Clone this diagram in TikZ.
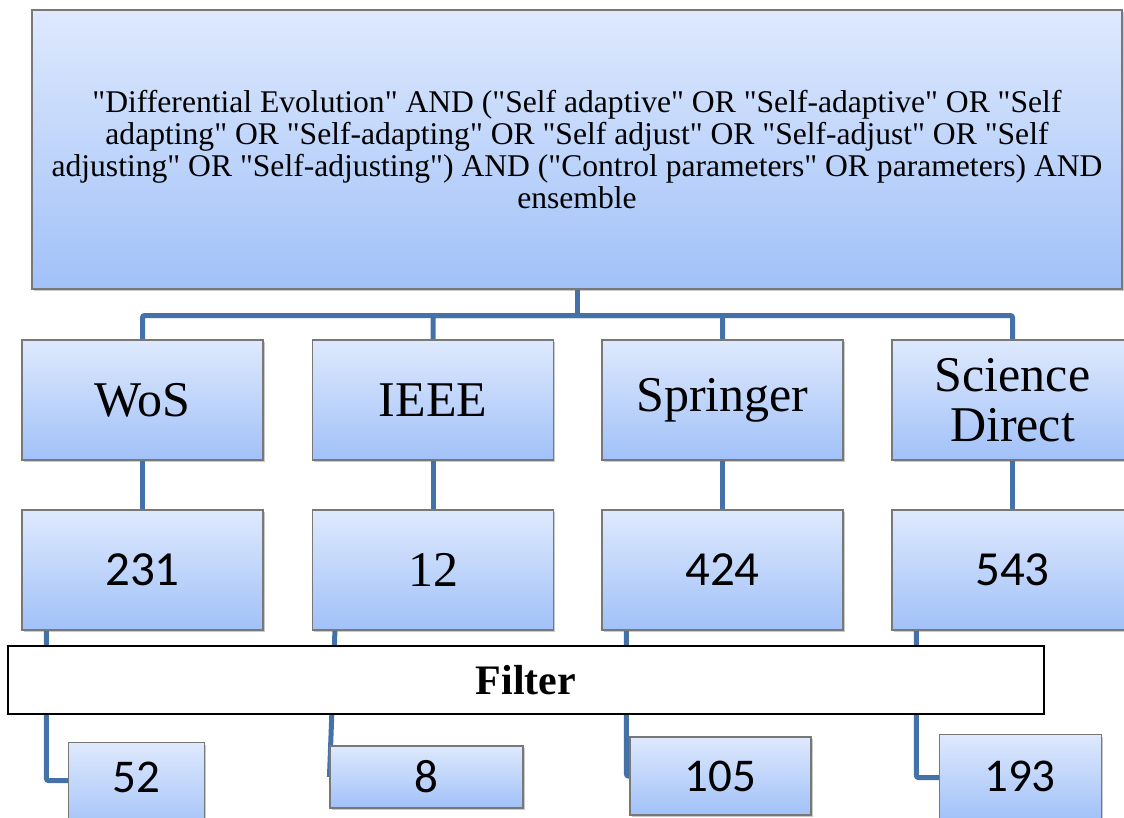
\documentclass[tikz,border=0pt]{standalone}
\usepackage{fontspec}
\setmainfont{Liberation Serif}[Ligatures=TeXOff]
\newfontfamily\calib{Carlito}
\usetikzlibrary{shadows,calc,backgrounds}
\definecolor{linkblue}{RGB}{68,114,168}
\definecolor{boxtop}{RGB}{222,233,253}
\definecolor{boxbot}{RGB}{161,193,248}
\definecolor{boxedge}{RGB}{120,120,120}
\tikzset{
  box/.style={draw=boxedge, line width=1.1pt, top color=boxtop, bottom color=boxbot,
    inner sep=0pt, align=center,
    drop shadow={shadow xshift=1.8pt, shadow yshift=-2.2pt, opacity=0.35, fill=black!60}},
  conn/.style={draw=linkblue, line width=5pt, rounded corners=2pt},
  srcfont/.style={font=\fontsize{50}{50}\selectfont},
  numfont/.style={font=\calib\fontsize{49}{55}\selectfont},
  lowfont/.style={font=\calib\fontsize{47}{52}\selectfont},
  filterbox/.style={draw=black, line width=1.2pt, fill=white, inner sep=0pt,
    font=\bfseries\fontsize{42}{44}\selectfont}
}
\begin{document}
\begin{tikzpicture}[x=1pt,y=-1pt]
\useasboundingbox (0,0) rectangle (1124,817);
% top query box
\node[box, minimum width=1090pt, minimum height=279pt, font=\fontsize{31.6}{32}\selectfont] (top) at (577,149.5)
 {"Differential Evolution" AND ("Self adaptive" OR "Self-adaptive" OR "Self\\
 adapting" OR "Self-adapting" OR "Self adjust" OR "Self-adjust" OR "Self\\
 adjusting" OR "Self-adjusting") AND ("Control parameters" OR parameters) AND\\
 ensemble};
% sources
\node[box, srcfont, minimum width=241pt, minimum height=120pt] (w2) at (142.5,400) {WoS};
\node[box, srcfont, minimum width=241pt, minimum height=120pt] (i2) at (433,400) {IEEE};
\node[box, srcfont, minimum width=241pt, minimum height=120pt] (s2) at (722.5,400) {Springer};
\node[box, srcfont, minimum width=241pt, minimum height=120pt] (d2) at (1012.5,400) {Science\\Direct};
% counts
\node[box, numfont, minimum width=241pt, minimum height=120pt] (w3) at (142.5,570) {231};
\node[box, srcfont, minimum width=241pt, minimum height=120pt] (i3) at (433,570) {12};
\node[box, numfont, minimum width=241pt, minimum height=120pt] (s3) at (722.5,570) {424};
\node[box, numfont, minimum width=241pt, minimum height=120pt] (d3) at (1012.5,570) {543};
% filtered
\node[box, minimum width=136pt, minimum height=90pt, anchor=north west] (f1) at (68,742) {};
\node[lowfont] (t1) at (136,777) {52};
\node[box, lowfont, minimum width=193pt, minimum height=62pt] (f2) at (426.5,777) {8};
\node[box, lowfont, minimum width=181pt, minimum height=78pt] (f3) at (720.5,776) {105};
\node[box, minimum width=162pt, minimum height=86pt, anchor=north west] (f4) at (939,734) {};
\node[lowfont] (t4) at (1020,776) {193};
% filter bar
\node[filterbox, minimum width=1036pt, minimum height=68pt] (flt) at (526,680) {Filter};
\begin{scope}[on background layer]
\coordinate (bus) at ($(top.south)+(0,26)$);
\draw[conn] (top.south) -- (bus);
\draw[conn] (bus) -| (w2.north);
\draw[conn] (bus) -| (i2.north);
\draw[conn] (bus) -| (s2.north);
\draw[conn] (bus) -| (d2.north);
\draw[conn] (w2) -- (w3);
\draw[conn] (i2) -- (i3);
\draw[conn] (s2) -- (s3);
\draw[conn] (d2) -- (d3);
\draw[conn] ([xshift=25pt]w3.south west) |- ([yshift=7pt]f1.west);
\draw[conn] ([xshift=23pt]i3.south west) -- (f2.west);
\draw[conn] ([xshift=25pt]s3.south west) |- (f3.west);
\draw[conn] ([xshift=25pt]d3.south west) |- (f4.west);
\end{scope}
\end{tikzpicture}
\end{document}
